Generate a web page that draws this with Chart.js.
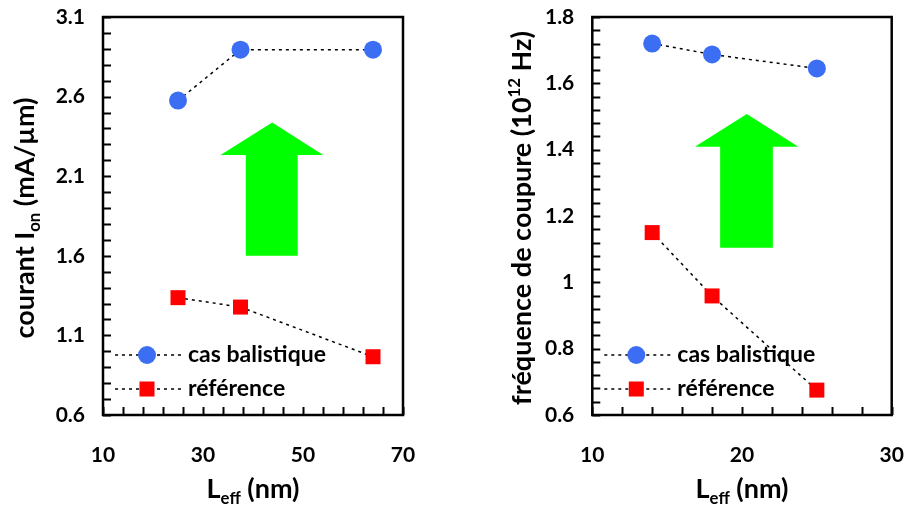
<!DOCTYPE html>
<html>
<head>
<meta charset="utf-8">
<script src="https://cdn.jsdelivr.net/npm/chart.js@4.4.0/dist/chart.umd.min.js"></script>
<style>
  html, body { margin: 0; padding: 0; background: #fff; }
  #wrap { position: relative; width: 907px; height: 506px; }
  #c1 { position: absolute; left: 0; top: 0; }
  #c2 { position: absolute; left: 453px; top: 0; }
</style>
</head>
<body>
<div id="wrap">
  <canvas id="c1" width="453" height="506"></canvas>
  <canvas id="c2" width="454" height="506"></canvas>
</div>
<script>
// Data
const seriesNames = ['cas balistique', 'référence'];

// Left panel: on-current vs effective length
const lengthsIon = [25, 37.5, 64];
const ionBalistique = [2.575, 2.895, 2.895];
const ionReference = [1.337, 1.278, 0.966];
const ticksIonX = [10, 30, 50, 70];
const ticksIonY = [0.6, 1.1, 1.6, 2.1, 2.6, 3.1];

// Right panel: cut-off frequency vs effective length
const lengthsFt = [14, 18, 25];
const ftBalistique = [1.72, 1.687, 1.645];
const ftReference = [1.15, 0.959, 0.675];
const ticksFtX = [10, 20, 30];
const ticksFtY = [0.6, 0.8, 1, 1.2, 1.4, 1.6, 1.8];

const colors = {
    blue: '#3B6EF2',
    red: '#FF0000',
    green: '#00FF00',
    ink: '#000000'
};
const FONT = 'Lato';
const tickFont = { family: FONT, size: 21, weight: 'bold' };
const dash = [3, 4];

function pts(xs, ys) {
    return xs.map((x, i) => ({ x: x, y: ys[i] }));
}

function fontStr(size) {
    return 'bold ' + size + 'px ' + FONT;
}

// text with sub/superscript parts
function richWidth(ctx, parts, size) {
    let w = 0;
    parts.forEach(p => {
        ctx.font = fontStr(p.sub || p.sup ? size * 0.62 : size);
        w += ctx.measureText(p.t).width;
    });
    return w;
}

function drawRich(ctx, parts, size, x, y) {
    ctx.textAlign = 'left';
    ctx.textBaseline = 'alphabetic';
    parts.forEach(p => {
        const s = p.sub || p.sup ? size * 0.62 : size;
        const dy = p.sub ? size * 0.24 : (p.sup ? -size * 0.42 : 0);
        ctx.font = fontStr(s);
        ctx.fillText(p.t, x, y + dy);
        x += ctx.measureText(p.t).width;
    });
}

function decor(opts) {
    return {
        id: 'decor',
        beforeDatasetsDraw(chart) {
            const a = chart.chartArea;
            const w = a.right - a.left, h = a.bottom - a.top;
            const ar = opts.arrow;
            const P = (fx, fy) => [a.left + fx * w, a.top + fy * h];
            const ctx = chart.ctx;
            ctx.save();
            ctx.fillStyle = colors.green;
            ctx.beginPath();
            const poly = [
                P(ar.tipX, ar.tipY), P(ar.headR, ar.headY), P(ar.shaftR, ar.headY),
                P(ar.shaftR, ar.bottom), P(ar.shaftL, ar.bottom), P(ar.shaftL, ar.headY),
                P(ar.headL, ar.headY)
            ];
            poly.forEach((p, i) => i ? ctx.lineTo(p[0], p[1]) : ctx.moveTo(p[0], p[1]));
            ctx.closePath();
            ctx.fill();
            ctx.restore();
        },
        afterDraw(chart) {
            const ctx = chart.ctx;
            const a = chart.chartArea;
            const xs = chart.scales.x, ys = chart.scales.y;
            ctx.save();

            // frame
            ctx.strokeStyle = colors.ink;
            ctx.lineWidth = 2.5;
            ctx.strokeRect(a.left, a.top, a.right - a.left, a.bottom - a.top);

            // inside ticks, 5 per major interval
            ctx.lineWidth = 2;
            ctx.beginPath();
            const tl = 8;
            const stepY = (opts.yTicks[1] - opts.yTicks[0]) / 5;
            for (let v = ys.min; v <= ys.max + 1e-9; v += stepY) {
                const py = Math.round(ys.getPixelForValue(v)) + 0.5;
                ctx.moveTo(a.left, py);
                ctx.lineTo(a.left + tl, py);
            }
            const stepX = (opts.xTicks[1] - opts.xTicks[0]) / 5;
            for (let v = xs.min; v <= xs.max + 1e-9; v += stepX) {
                const px = Math.round(xs.getPixelForValue(v)) + 0.5;
                ctx.moveTo(px, a.bottom);
                ctx.lineTo(px, a.bottom - tl);
            }
            ctx.stroke();

            // legend inside lower left
            chart.data.datasets.forEach((ds, i) => {
                const y = a.bottom - (i === 0 ? 60 : 26);
                ctx.strokeStyle = colors.ink;
                ctx.lineWidth = 1.5;
                ctx.setLineDash(dash);
                ctx.beginPath();
                ctx.moveTo(a.left + 12, y);
                ctx.lineTo(a.left + 79, y);
                ctx.stroke();
                ctx.setLineDash([]);
                const mx = a.left + 44;
                ctx.fillStyle = ds.pointBackgroundColor;
                if (ds.pointStyle === 'rect') {
                    ctx.fillRect(mx - 7.5, y - 7.5, 15, 15);
                } else {
                    ctx.beginPath();
                    ctx.arc(mx, y, 9, 0, Math.PI * 2);
                    ctx.fill();
                }
                ctx.fillStyle = colors.ink;
                ctx.font = fontStr(23);
                ctx.textAlign = 'left';
                ctx.textBaseline = 'middle';
                ctx.fillText(ds.label, a.left + 85, y);
            });

            // axis titles
            ctx.fillStyle = colors.ink;
            const tsize = 27;
            const xw = richWidth(ctx, opts.xTitle, tsize);
            drawRich(ctx, opts.xTitle, tsize, (a.left + a.right) / 2 - xw / 2, 498);

            const yw = richWidth(ctx, opts.yTitle, tsize);
            ctx.translate(opts.yTitleX, (a.top + a.bottom) / 2 + 2);
            ctx.rotate(-Math.PI / 2);
            drawRich(ctx, opts.yTitle, tsize, -yw / 2, 0);
            ctx.restore();
        }
    };
}

function makeChart(id, xs, blue, red, xr, yr, xTicks, yTicks, yWidth, padRight, extra) {
    const ctx = document.getElementById(id).getContext('2d');
    return new Chart(ctx, {
        type: 'line',
        data: {
            datasets: [{
                label: seriesNames[0],
                data: pts(xs, blue),
                borderColor: colors.ink,
                borderWidth: 1.5,
                borderDash: dash,
                pointStyle: 'circle',
                pointRadius: 9,
                pointBackgroundColor: colors.blue,
                pointBorderColor: colors.blue,
                pointBorderWidth: 0,
                tension: 0
            }, {
                label: seriesNames[1],
                data: pts(xs, red),
                borderColor: colors.ink,
                borderWidth: 1.5,
                borderDash: dash,
                pointStyle: 'rect',
                pointRadius: 10.6,
                pointBackgroundColor: colors.red,
                pointBorderColor: colors.red,
                pointBorderWidth: 0,
                tension: 0
            }]
        },
        options: {
            responsive: false,
            animation: false,
            clip: false,
            layout: { padding: { top: 17, right: padRight, left: 0, bottom: 0 } },
            plugins: {
                legend: { display: false },
                tooltip: { enabled: false }
            },
            scales: {
                x: {
                    type: 'linear',
                    min: xr[0],
                    max: xr[1],
                    afterBuildTicks: s => { s.ticks = xTicks.map(v => ({ value: v })); },
                    afterFit: s => { s.height = 91; s.paddingLeft = 0; s.paddingRight = 0; },
                    grid: { display: false, drawTicks: false },
                    border: { display: false },
                    ticks: { padding: 28, color: colors.ink, font: tickFont, maxRotation: 0, autoSkip: false }
                },
                y: {
                    type: 'linear',
                    min: yr[0],
                    max: yr[1],
                    afterBuildTicks: s => { s.ticks = yTicks.map(v => ({ value: v })); },
                    afterFit: s => { s.width = yWidth; s.paddingTop = 0; s.paddingBottom = 0; },
                    grid: { display: false, drawTicks: false },
                    border: { display: false },
                    ticks: { padding: 18, color: colors.ink, font: tickFont, autoSkip: false,
                        callback: v => String(v) }
                }
            }
        },
        plugins: [decor(Object.assign({ xTicks: xTicks, yTicks: yTicks }, extra))]
    });
}

makeChart('c1', lengthsIon, ionBalistique, ionReference, [10, 70], [0.6, 3.1],
    ticksIonX, ticksIonY, 103, 50, {
        arrow: { tipX: 0.564, tipY: 0.265, headY: 0.347, headL: 0.392, headR: 0.734,
                 shaftL: 0.476, shaftR: 0.649, bottom: 0.600 },
        xTitle: [{ t: 'L' }, { t: 'eff', sub: true }, { t: ' (nm)' }],
        yTitle: [{ t: 'courant I' }, { t: 'on', sub: true }, { t: ' (mA/µm)' }],
        yTitleX: 34
    });

makeChart('c2', lengthsFt, ftBalistique, ftReference, [10, 30], [0.6, 1.8],
    ticksFtX, ticksFtY, 139.3, 15.3, {
        arrow: { tipX: 0.516, tipY: 0.244, headY: 0.326, headL: 0.343, headR: 0.688,
                 shaftL: 0.427, shaftR: 0.603, bottom: 0.580 },
        xTitle: [{ t: 'L' }, { t: 'eff', sub: true }, { t: ' (nm)' }],
        yTitle: [{ t: 'fréquence de coupure (10' }, { t: '12', sup: true }, { t: ' Hz)' }],
        yTitleX: 531 - 453
    });
</script>
</body>
</html>
